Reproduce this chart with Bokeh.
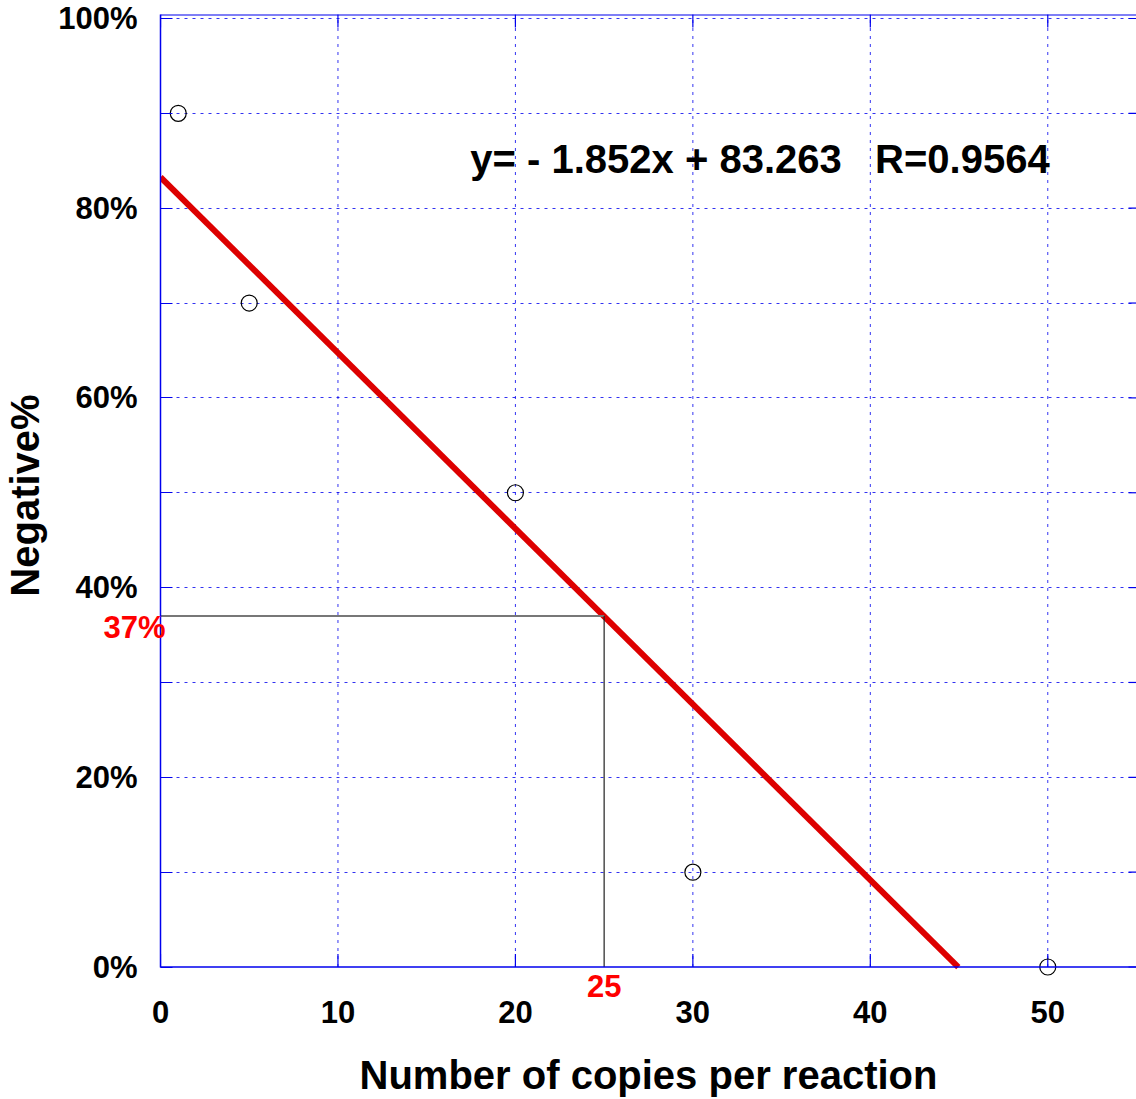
from bokeh.plotting import figure
from bokeh.models import (FixedTicker, LinearAxis, Label, Range1d, Grid, Span,
                          PrintfTickFormatter, CustomJSTickFormatter)
from bokeh.embed import file_html
from bokeh.resources import INLINE

# measurements: copies per reaction vs. fraction of negative reactions
copies = [1, 5, 20, 30, 50]
negative_pct = [90, 70, 50, 10, 0]

# least-squares fit reported on the chart
slope = -1.852
intercept = 83.263
r_value = 0.9564

# read-off point marked on the fit line
read_x = 25
read_y = 37

x_ticks = [0, 10, 20, 30, 40, 50]
y_ticks = [0, 20, 40, 60, 80, 100]
y_every10 = [0, 10, 20, 30, 40, 50, 60, 70, 80, 90, 100]

FONT = "Liberation Sans"
BLUE = "#0000ee"
TICK_PX = 31
LABEL_PX = 40

X_START, X_END = 0, 55
Y_START, Y_END = -1.0, 100.42
W, H = 1136, 1099
BORDER_L, BORDER_R, BORDER_T, BORDER_B = 160, 0, 14, 122

p = figure(width=W, height=H,
           x_range=Range1d(X_START, X_END), y_range=Range1d(Y_START, Y_END),
           x_axis_type=None, y_axis_type=None,
           output_backend="svg", toolbar_location=None,
           min_border_left=BORDER_L, min_border_right=BORDER_R,
           min_border_top=BORDER_T, min_border_bottom=BORDER_B)
p.outline_line_color = None
p.background_fill_color = "white"
p.border_fill_color = "white"

# pixel -> data conversion, for marks of fixed screen length
px_x = (W - BORDER_L - BORDER_R) / (X_END - X_START)
px_y = (H - BORDER_T - BORDER_B) / (Y_END - Y_START)

GRID = dict(line_color=BLUE, line_alpha=0.8, line_dash="3 5", line_width=1)

# horizontal grid every 10%
p.add_layout(Grid(dimension=1, ticker=FixedTicker(ticks=y_every10[1:]),
                  grid_line_color=BLUE, grid_line_alpha=0.8,
                  grid_line_dash="3 5", grid_line_width=1))
# vertical grid from the zero line up to the top edge
vx = x_ticks[1:]
p.segment(x0=vx, y0=[0] * len(vx), x1=vx, y1=[Y_END] * len(vx), **GRID)

# frame edges: zero line at bottom, top edge
p.add_layout(Span(location=0, dimension="width", line_color=BLUE, line_width=1.5))
p.add_layout(Span(location=Y_END, dimension="width", line_color=BLUE, line_width=2))

# inward tick marks on bottom, top and right edges
tick_b = 13 / px_y
p.segment(x0=x_ticks, y0=[0] * len(x_ticks), x1=x_ticks,
          y1=[tick_b] * len(x_ticks), line_color=BLUE, line_width=1.2)
p.segment(x0=x_ticks, y0=[Y_END] * len(x_ticks), x1=x_ticks,
          y1=[Y_END - tick_b] * len(x_ticks), line_color=BLUE, line_width=1.2)
tick_r = 8 / px_x
p.segment(x0=[X_END - tick_r] * len(y_every10), y0=y_every10,
          x1=[X_END] * len(y_every10), y1=y_every10, line_color=BLUE, line_width=1.2)


def style_labels(ax, size, color="black"):
    ax.major_label_text_font = FONT
    ax.major_label_text_font_style = "bold"
    ax.major_label_text_font_size = f"{size}px"
    ax.major_label_text_color = color


def style_title(ax):
    ax.axis_label_text_font = FONT
    ax.axis_label_text_font_style = "bold"
    ax.axis_label_text_font_size = f"{LABEL_PX}px"
    ax.axis_label_text_color = "black"


# x axes: the read-off value sits closest to the frame, the scale below it
x_read_axis = LinearAxis(ticker=FixedTicker(ticks=[read_x]),
                         axis_line_color=None, major_tick_line_color=None,
                         minor_tick_line_color=None, major_label_standoff=-8)
style_labels(x_read_axis, TICK_PX, "#ff0000")

x_axis = LinearAxis(ticker=FixedTicker(ticks=x_ticks),
                    axis_line_color=None, major_tick_line_color=None,
                    minor_tick_line_color=None, major_label_standoff=-5,
                    axis_label="Number of copies per reaction",
                    axis_label_standoff=27)
style_labels(x_axis, TICK_PX)
style_title(x_axis)

p.add_layout(x_read_axis, "below")
p.add_layout(x_axis, "below")

# y axes: the read-off value (with the frame line and inner ticks) next to
# the frame, then the percentage scale; the read-off text hangs just below
# its guide line
y_label_drop = 11 / px_y
y_read_axis = LinearAxis(ticker=FixedTicker(ticks=[read_y - y_label_drop],
                                            minor_ticks=y_every10),
                         formatter=CustomJSTickFormatter(code=f"return '{read_y}%';"),
                         bounds=(0, Y_END),
                         axis_line_color=BLUE, axis_line_width=1.5,
                         major_tick_line_color=None,
                         minor_tick_line_color=BLUE, minor_tick_in=12,
                         minor_tick_out=0, major_label_standoff=-11)
style_labels(y_read_axis, TICK_PX, "#ff0000")

y_axis = LinearAxis(ticker=FixedTicker(ticks=y_ticks),
                    formatter=PrintfTickFormatter(format="%d%%"),
                    axis_line_color=None, major_tick_line_color=None,
                    minor_tick_line_color=None, major_label_standoff=-43,
                    axis_label="Negative%", axis_label_standoff=8)
style_labels(y_axis, TICK_PX)
style_title(y_axis)

p.add_layout(y_read_axis, "left")
p.add_layout(y_axis, "left")

# fit line from the stated equation, down to the x-intercept
x_zero = -intercept / slope
p.line([0, x_zero], [intercept, intercept + slope * x_zero],
       line_color="#dd0000", line_width=6)

# read-off guides
p.line([0, read_x], [read_y, read_y], line_color="#777777", line_width=2)
p.line([read_x, read_x], [0, read_y], line_color="#222222", line_width=1.2)

# data points
p.scatter(copies, negative_pct, marker="circle", size=16,
          fill_color=None, line_color="black", line_width=1.2)

# fit equation
sp = "\u00a0" * 3
p.add_layout(Label(x=17.46, y=85.2,
                   text=f"y= - {abs(slope):.3f}x + {intercept:.3f}{sp}R={r_value:.4f}",
                   text_align="left", text_baseline="middle",
                   text_font=FONT, text_font_style="bold",
                   text_font_size=f"{LABEL_PX}px", text_color="black"))

with open("out.html", "w") as f:
    f.write(file_html(p, INLINE))
